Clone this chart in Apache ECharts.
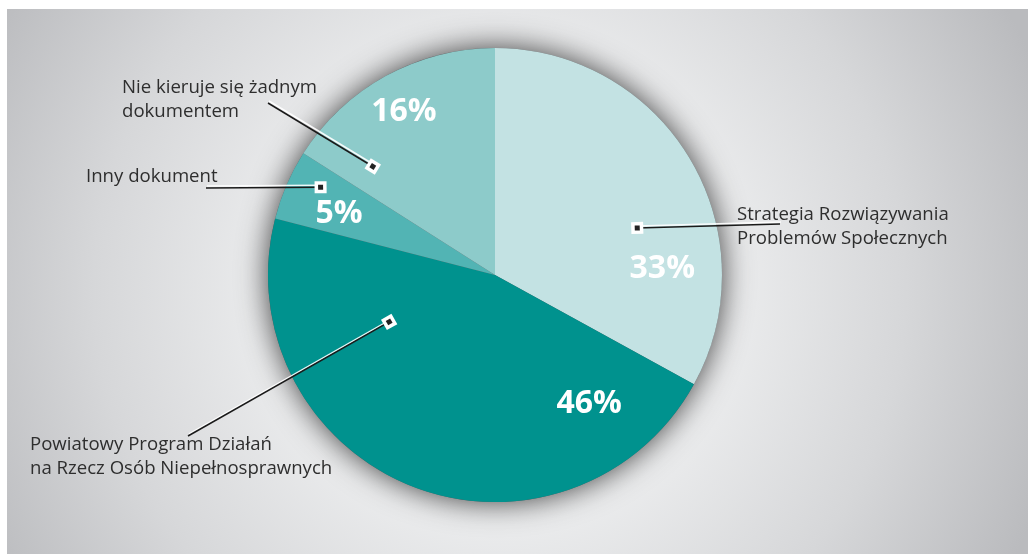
<!DOCTYPE html>
<html>
<head>
<meta charset="utf-8">
<script src="https://cdn.jsdelivr.net/npm/echarts@6/dist/echarts.min.js"></script>
<style>
  html, body { margin: 0; padding: 0; background: #fff; }
  #chart { width: 1028px; height: 554px; }
</style>
</head>
<body>
<div id="chart"></div>
<script>
// data
const categories = [
  'Strategia Rozwiązywania\nProblemów Społecznych',
  'Powiatowy Program Działań\nna Rzecz Osób Niepełnosprawnych',
  'Inny dokument',
  'Nie kieruje się żadnym\ndokumentem'
]
const shares = [33, 46, 5, 16]

// styling
const colors = ['#c3e2e3', '#00928e', '#52b4b4', '#8dcbca']
const center = [495, 275]
const radius = 227
// nudges for the white percentage labels (from the default 'inside' spot)
const pctOffsets = [[67, 53], [137, 21], [-49, -15], [-35, -61]]
// callouts: marker at [angle clockwise from 12 o'clock, fraction of radius],
// line end point and top-left of the text block
const callouts = [
  { anchor: [71.7, 0.66], lineEnd: [780, 224], text: [737, 203] },
  { anchor: [246.1, 0.51], lineEnd: [188, 436], text: [30, 433] },
  { anchor: [296.7, 0.86], lineEnd: [206, 188], text: [86, 165] },
  { anchor: [311.6, 0.72], lineEnd: [268, 103], text: [122, 76] }
]

function anchorPoint(c) {
  const a = c.anchor[0] * Math.PI / 180
  const r = c.anchor[1] * radius
  return [center[0] + Math.sin(a) * r, center[1] - Math.cos(a) * r]
}

const chart = echarts.init(document.getElementById('chart'))

const pieData = categories.map((name, i) => ({
  name: name,
  value: shares[i],
  itemStyle: { color: colors[i] },
  label: { offset: pctOffsets[i] }
}))

const calloutData = categories.map((name, i) => ({ name: name, value: shares[i] }))

const markers = callouts.map(c => {
  const p = anchorPoint(c)
  const ang = Math.atan2(c.lineEnd[1] - p[1], c.lineEnd[0] - p[0])
  return {
    type: 'group',
    x: p[0],
    y: p[1],
    rotation: -ang,
    z: 100,
    children: [
      { type: 'rect', shape: { x: -6, y: -6, width: 12, height: 12 }, style: { fill: '#fff' }, z: 100 },
      { type: 'rect', shape: { x: -2.5, y: -2.5, width: 5, height: 5 }, style: { fill: '#222' }, z: 101 }
    ]
  }
})

const option = {
  animation: false,
  backgroundColor: '#fff',
  graphic: [
    {
      type: 'rect',
      z: -100,
      silent: true,
      shape: { x: 7, y: 9, width: 1021, height: 545 },
      style: {
        fill: {
          type: 'radial', x: 500, y: 290, r: 580, global: true,
          colorStops: [
            { offset: 0, color: '#f7f7f8' },
            { offset: 0.35, color: '#eeeff0' },
            { offset: 0.7, color: '#d6d7d9' },
            { offset: 1, color: '#babbbe' }
          ]
        }
      }
    }
  ].concat(markers),
  series: [
    {
      // soft shadow under the whole disc
      type: 'pie',
      silent: true,
      center: center,
      radius: radius,
      z: 1,
      label: { show: false },
      labelLine: { show: false },
      itemStyle: {
        color: '#5a5b5e',
        shadowBlur: 30,
        shadowColor: 'rgba(0,0,0,0.75)'
      },
      data: [{ value: 1, name: '' }]
    },
    {
      type: 'pie',
      silent: true,
      center: center,
      radius: radius,
      startAngle: 90,
      clockwise: true,
      z: 2,
      label: {
        show: true,
        position: 'inside',
        formatter: '{c}%',
        color: '#fff',
        fontFamily: 'Open Sans',
        fontWeight: 'bold',
        fontSize: 32
      },
      labelLine: { show: false },
      data: pieData
    },
    {
      type: 'pie',
      silent: true,
      center: center,
      radius: radius,
      startAngle: 90,
      clockwise: true,
      z: 3,
      avoidLabelOverlap: false,
      itemStyle: { color: 'rgba(0,0,0,0)' },
      label: {
        show: true,
        position: 'outside',
        formatter: '{b}',
        color: '#2e2e2e',
        fontFamily: 'Open Sans',
        fontSize: 18.6,
        lineHeight: 24
      },
      labelLine: {
        show: true,
        lineStyle: {
          color: '#1a1a1a',
          width: 1.5,
          shadowColor: 'rgba(255,255,255,0.9)',
          shadowOffsetX: 1,
          shadowOffsetY: -2
        }
      },
      labelLayout: function (params) {
        const c = callouts[params.dataIndex]
        const p = anchorPoint(c)
        return {
          x: c.text[0],
          y: c.text[1],
          align: 'left',
          verticalAlign: 'top',
          labelLinePoints: [p, p, c.lineEnd]
        }
      },
      data: calloutData
    }
  ]
}

chart.setOption(option)
</script>
</body>
</html>
